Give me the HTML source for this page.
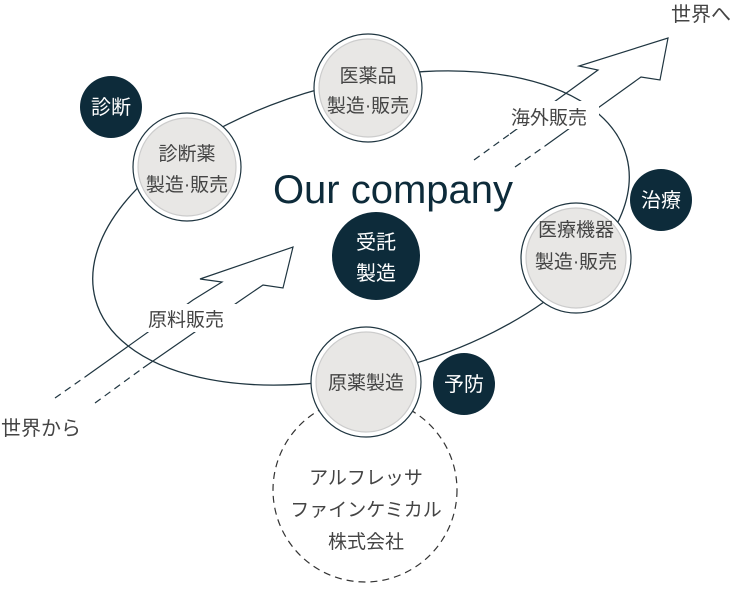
<!DOCTYPE html>
<html><head><meta charset="utf-8"><style>
html,body{margin:0;padding:0;background:#fff;}
svg{display:block;}
text{font-family:"Liberation Sans","Noto Sans CJK JP",sans-serif;}
</style></head><body>
<svg width="738" height="600" viewBox="0 0 738 600" xmlns="http://www.w3.org/2000/svg">
<g fill="none" stroke="#1f3540" stroke-width="1.3">
<ellipse cx="361" cy="228" rx="275" ry="145" transform="rotate(-15 361 228)"/>
</g>
<g fill="none" stroke="#1f3540" stroke-width="1.2">
<polyline points="510,134 598,70 579,66 668,38 660,80 641,77 545,146"/>
<line x1="474" y1="160" x2="510" y2="134" stroke-dasharray="7,5"/>
<line x1="515" y1="167" x2="545" y2="146" stroke-dasharray="7,5"/>
</g>
<rect x="500" y="101" width="99" height="28" fill="#fff"/>
<g fill="none" stroke="#1f3540" stroke-width="1.2">
<polyline points="85,377 193,300 222,282 200,279 293,247 283,288 263,285 241,300 143,368"/>
<line x1="55" y1="398" x2="85" y2="377" stroke-dasharray="7,5"/>
<line x1="95" y1="403" x2="143" y2="368" stroke-dasharray="7,5"/>
</g>
<rect x="136" y="304" width="100" height="28" fill="#fff"/>
<circle cx="365" cy="490" r="92" fill="#fff" stroke="#333" stroke-width="1.2" stroke-dasharray="7,5"/>
<g stroke="#1f3540" stroke-width="1.2">
<circle cx="368" cy="88" r="54" fill="#fff"/><circle cx="368" cy="88" r="49" fill="#e8e7e5" stroke="#ccc"/>
<circle cx="187" cy="167" r="54" fill="#fff"/><circle cx="187" cy="167" r="49" fill="#e8e7e5" stroke="#ccc"/>
<circle cx="576" cy="258" r="55" fill="#fff"/><circle cx="576" cy="258" r="50" fill="#e8e7e5" stroke="#ccc"/>
<circle cx="366" cy="382" r="55" fill="#fff"/><circle cx="366" cy="382" r="50" fill="#e8e7e5" stroke="#ccc"/>
</g>
<g fill="#0d2b3a">
<circle cx="111" cy="107" r="31"/><circle cx="661" cy="200" r="31"/>
<circle cx="376" cy="256" r="44"/><circle cx="464" cy="384" r="31"/>
</g>
<g font-size="20" text-anchor="middle" fill="#fff">
<text x="111" y="114">診断</text>
<text x="661" y="207">治療</text>
<text x="376" y="249">受託</text>
<text x="376" y="280">製造</text>
<text x="464" y="391">予防</text>
</g>
<g font-size="19" text-anchor="middle" fill="#444">
<text x="368" y="82">医薬品</text><text x="368" y="112">製造·販売</text>
<text x="187" y="160">診断薬</text><text x="187" y="191">製造·販売</text>
<text x="576" y="236">医療機器</text><text x="576" y="268">製造·販売</text>
<text x="366" y="389">原薬製造</text>
<text x="366" y="484">アルフレッサ</text>
<text x="366" y="516">ファインケミカル</text>
<text x="366" y="548">株式会社</text>
<text x="549" y="124">海外販売</text>
<text x="186" y="326">原料販売</text>
<text x="701" y="21" font-size="20">世界へ</text>
<text x="41" y="435" font-size="20">世界から</text>
</g>
<text x="393" y="203" font-size="40" text-anchor="middle" fill="#0d2b3a" font-family="DejaVu Sans, sans-serif">Our company</text>
</svg>
</body></html>
